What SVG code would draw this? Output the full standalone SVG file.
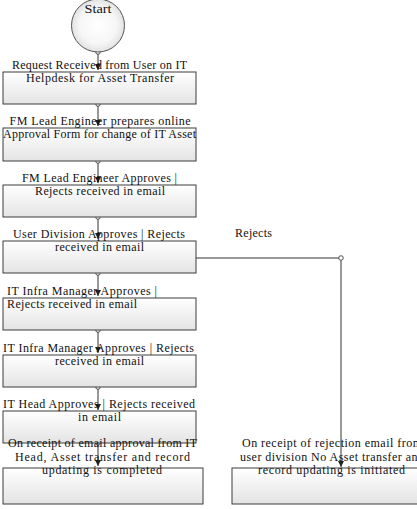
<svg xmlns="http://www.w3.org/2000/svg" width="417" height="509" viewBox="0 0 417 509">
<defs>
<linearGradient id="boxg" x1="0" y1="0" x2="0" y2="1">
<stop offset="0" stop-color="#ffffff"/>
<stop offset="1" stop-color="#e4e4e4"/>
</linearGradient>
<radialGradient id="circg" cx="0.5" cy="0.5" r="0.5">
<stop offset="0" stop-color="#ffffff"/>
<stop offset="0.7" stop-color="#f6f6f6"/>
<stop offset="1" stop-color="#e2e2e2"/>
</radialGradient>
<marker id="arr" viewBox="0 0 10 10" refX="10" refY="5" markerWidth="6" markerHeight="7" markerUnits="userSpaceOnUse" orient="auto">
<path d="M0,0 L10,5 L0,10 Z" fill="#222"/>
</marker>
<marker id="dot" viewBox="0 0 10 10" refX="5" refY="5" markerWidth="6" markerHeight="6" markerUnits="userSpaceOnUse">
<circle cx="5" cy="5" r="3.8" fill="#fff" stroke="#333" stroke-width="1.4"/>
</marker>
</defs>
<style>
.box{fill:url(#boxg);stroke:#3c3c3c;stroke-width:1}
.lbl{font-family:"Liberation Serif","Times New Roman",serif;font-size:12px;fill:#111}
.c{text-anchor:middle}
.conn{fill:none;stroke:#333;stroke-width:1}
</style>
<rect width="417" height="509" fill="#ffffff"/>
<g id="connectors">
<path class="conn" d="M98,52 V70" marker-start="url(#dot)" marker-end="url(#arr)"/>
<path class="conn" d="M98,104 V126" marker-start="url(#dot)" marker-end="url(#arr)"/>
<path class="conn" d="M98,161 V183" marker-start="url(#dot)" marker-end="url(#arr)"/>
<path class="conn" d="M98,217 V239" marker-start="url(#dot)" marker-end="url(#arr)"/>
<path class="conn" d="M98,273 V296" marker-start="url(#dot)" marker-end="url(#arr)"/>
<path class="conn" d="M98,330 V353" marker-start="url(#dot)" marker-end="url(#arr)"/>
<path class="conn" d="M98,387 V410" marker-start="url(#dot)" marker-end="url(#arr)"/>
<path class="conn" d="M98,443 V466" marker-start="url(#dot)" marker-end="url(#arr)"/>
<path class="conn" d="M196,258 H341" marker-end="url(#dot)"/>
<path class="conn" d="M341,260.5 V467" marker-end="url(#arr)"/>
</g>
<g id="start">
<circle cx="98" cy="25.5" r="26.5" fill="url(#circg)" stroke="#555" stroke-width="1"/>
<text class="lbl c" x="98" y="13" textLength="27" lengthAdjust="spacingAndGlyphs">Start</text>
</g>
<g id="n1">
<rect class="box" x="3" y="72" width="193" height="32"/>
<text class="lbl c" x="99.5" y="69" textLength="175">Request Received from User on IT</text>
<text class="lbl c" x="100" y="82" textLength="148">Helpdesk for Asset Transfer</text>
</g>
<g id="n2">
<rect class="box" x="3" y="128" width="193" height="33"/>
<text class="lbl c" x="100" y="125" textLength="181">FM Lead Engineer prepares online</text>
<text class="lbl c" x="99.5" y="138" textLength="193">Approval Form for change of IT Asset</text>
</g>
<g id="n3">
<rect class="box" x="3" y="185" width="193" height="32"/>
<text class="lbl c" x="99.5" y="182" textLength="155">FM Lead Engineer Approves |</text>
<text class="lbl c" x="100" y="195" textLength="130">Rejects received in email</text>
</g>
<g id="n4">
<rect class="box" x="3" y="241" width="193" height="32"/>
<text class="lbl c" x="99" y="238" textLength="172">User Division Approves | Rejects</text>
<text class="lbl c" x="99.5" y="251" textLength="89">received in email</text>
</g>
<g id="n5">
<rect class="box" x="3" y="298" width="193" height="32"/>
<text class="lbl" x="7" y="295" textLength="150">IT Infra Manager Approves |</text>
<text class="lbl" x="7" y="308" textLength="130">Rejects received in email</text>
</g>
<g id="n6">
<rect class="box" x="3" y="355" width="193" height="32"/>
<text class="lbl c" x="98.5" y="352" textLength="191">IT Infra Manager Approves | Rejects</text>
<text class="lbl c" x="99.5" y="365" textLength="89">received in email</text>
</g>
<g id="n7">
<rect class="box" x="3" y="411" width="193" height="32"/>
<text class="lbl c" x="99" y="408" textLength="192">IT Head Approves | Rejects received</text>
<text class="lbl c" x="99.5" y="421" textLength="43">in email</text>
</g>
<g id="n8">
<rect class="box" x="3" y="468" width="200" height="36"/>
<text class="lbl c" x="102.5" y="447" textLength="189">On receipt of email approval from IT</text>
<text class="lbl c" x="102.5" y="461" textLength="175">Head, Asset transfer and record</text>
<text class="lbl c" x="102" y="474" textLength="120">updating is completed</text>
</g>
<g id="n9">
<rect class="box" x="232" y="468" width="200" height="36"/>
<text class="lbl c" x="332" y="447" textLength="180">On receipt of rejection email from</text>
<text class="lbl c" x="332" y="461" textLength="184">user division No Asset transfer and</text>
<text class="lbl c" x="331.5" y="474" textLength="147">record updating is initiated</text>
</g>
<g id="rejects-label">
<text class="lbl c" x="253.5" y="237" textLength="37">Rejects</text>
</g>
</svg>
